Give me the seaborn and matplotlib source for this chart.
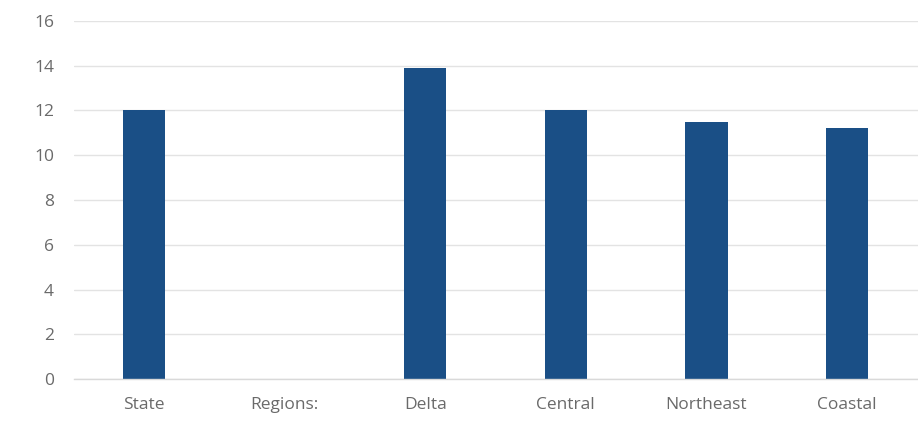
import numpy as np
import pandas as pd
import matplotlib
matplotlib.use("Agg")
import matplotlib.pyplot as plt
import seaborn as sns

categories = ["State", "Regions:", "Delta", "Central", "Northeast", "Coastal"]
values = [12.0, 0.0, 13.9, 12.0, 11.5, 11.2]
y_ticks = [0, 2, 4, 6, 8, 10, 12, 14, 16]

df = pd.DataFrame({"category": categories, "value": values})

sns.set_theme(style="white")
plt.rcParams["font.family"] = ["Open Sans", "DejaVu Sans"]

fig = plt.figure(figsize=(9.18, 4.23), dpi=100)
ax = fig.add_axes([73.5 / 918, (423 - 379) / 423, (917.5 - 73.5) / 918, (379 - 21) / 423])

sns.barplot(data=df, x="category", y="value", order=categories, color="#1a4f86",
            width=0.3, saturation=1, linewidth=0, ax=ax)

ax.set_ylim(0, 16)
ax.set_xlim(-0.5, len(categories) - 0.5)
ax.set_yticks(y_ticks)
ax.set_yticklabels([str(t) for t in y_ticks])
ax.yaxis.grid(True, color="#e3e3e3", linewidth=1.0)
ax.set_axisbelow(True)
for side in ["top", "right", "left"]:
    ax.spines[side].set_visible(False)
ax.spines["bottom"].set_color("#d9d9d9")
ax.spines["bottom"].set_linewidth(1.0)
ax.tick_params(axis="both", length=0, labelsize=12.5, labelcolor="#6a6a6a")
ax.tick_params(axis="y", pad=14)
ax.tick_params(axis="x", pad=13)
ax.set_xlabel("")
ax.set_ylabel("")

fig.savefig("out.png", dpi=100, facecolor="white")
